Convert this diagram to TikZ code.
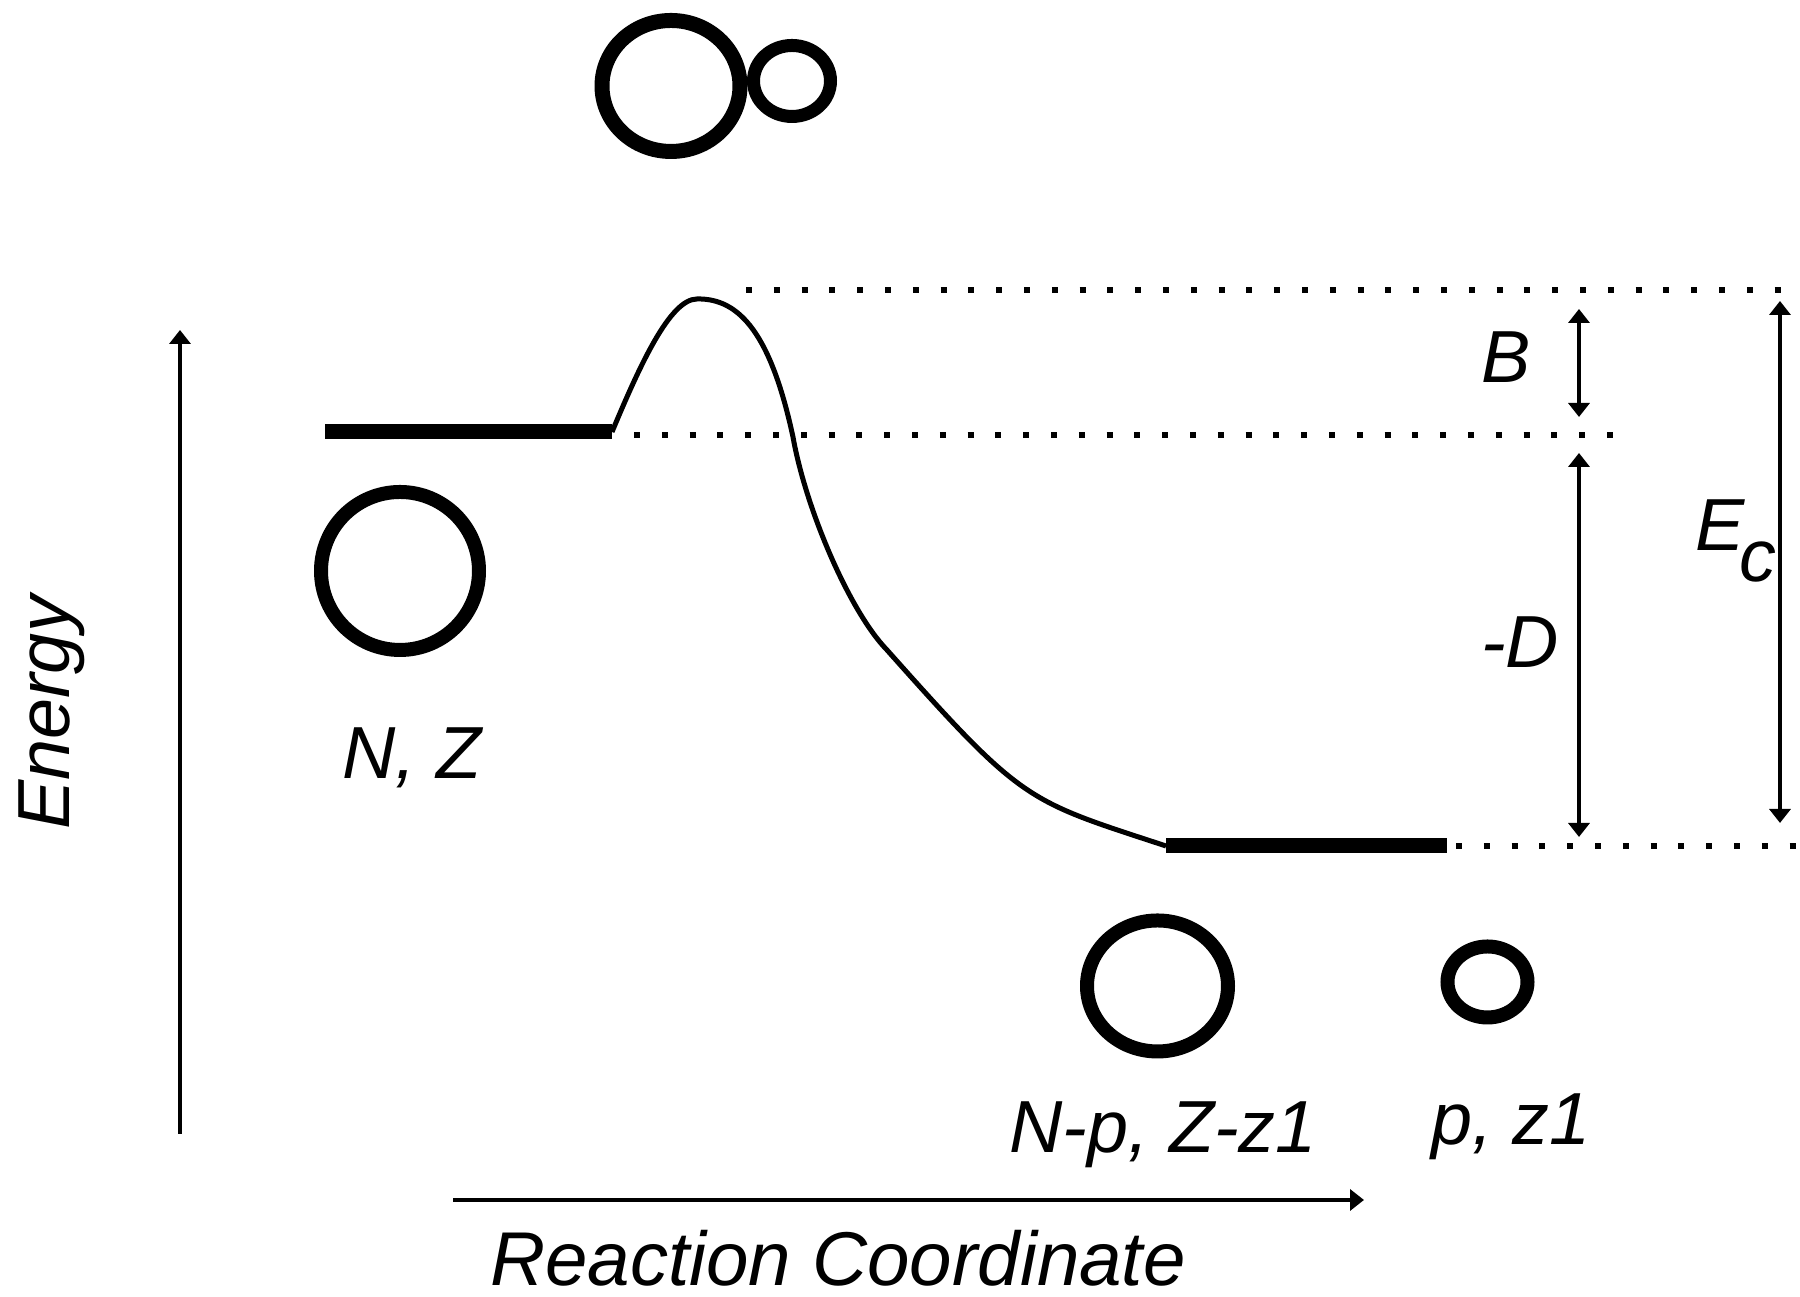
\documentclass[tikz,border=0pt]{standalone}
\usepackage{fontspec}
\setmainfont{Liberation Sans}
\usetikzlibrary{arrows.meta}

\tikzset{
  level/.style={line width=0.15cm},
  ring/.style={line width=0.14cm},
  guide/.style={line width=0.06cm, dash pattern=on 0.06cm off 0.218cm},
  lbl/.style={inner sep=0pt, font=\fontsize{21pt}{25pt}\selectfont\itshape},
}

\begin{document}
\begin{tikzpicture}[>={Triangle[width=0.21cm,length=0.14cm]}, line width=0.04cm]
  \useasboundingbox (0,0) rectangle (18,12.97);

  % energy levels
  \coordinate (lvlL-w) at (3.25,8.65);
  \coordinate (lvlL-e) at (6.12,8.65);
  \coordinate (lvlR-w) at (11.66,4.51);
  \coordinate (lvlR-e) at (14.47,4.51);
  \draw[level] (lvlL-w) -- (lvlL-e);
  \draw[level] (lvlR-w) -- (lvlR-e);

  % potential curve
  \draw[line width=0.05cm] (lvlL-e)
    .. controls (6.40,9.32) and (6.70,9.98) .. (6.97,9.98)
    .. controls (7.40,9.99) and (7.71,9.62) .. (7.93,8.60)
    .. controls (8.06,7.87) and (8.50,6.85) .. (8.87,6.47)
    .. controls (10.24,4.93) and (10.26,4.97) .. (lvlR-w);

  % dotted guides
  \draw[guide] (7.46,10.07) -- (18,10.07);
  \draw[guide] (6.34,8.62) -- (16.22,8.62);
  \draw[guide] (14.56,4.51) -- (18,4.51);

  % nuclei
  \draw[ring] (4.00,7.26) ellipse [x radius=0.79, y radius=0.79];
  \draw[ring, line width=0.15cm] (6.71,12.11) ellipse [x radius=0.69, y radius=0.655];
  \draw[ring, line width=0.13cm] (7.92,12.16) ellipse [x radius=0.385, y radius=0.355];
  \draw[ring] (11.575,3.11) ellipse [x radius=0.705, y radius=0.655];
  \draw[ring] (14.875,3.15) ellipse [x radius=0.40, y radius=0.355];

  % axes
  \coordinate (en-lo) at (1.80,1.63);
  \coordinate (en-hi) at (1.80,9.67);
  \coordinate (rc-l) at (4.53,0.97);
  \coordinate (rc-r) at (13.64,0.97);
  \draw[->] (en-lo) -- (en-hi);
  \draw[->] (rc-l) -- (rc-r);

  % energy differences
  \coordinate (B-hi) at (15.79,9.88);
  \coordinate (B-lo) at (15.79,8.80);
  \coordinate (D-hi) at (15.79,8.44);
  \coordinate (D-lo) at (15.79,4.60);
  \coordinate (Ec-hi) at (17.80,9.96);
  \coordinate (Ec-lo) at (17.80,4.74);
  \draw[<->] (B-hi) -- (B-lo);
  \draw[<->] (D-hi) -- (D-lo);
  \draw[<->] (Ec-hi) -- (Ec-lo);

  % labels
  \node[lbl, rotate=90, anchor=base] (energy) at (0.70,5.84) {Energy};
  \node[lbl, anchor=base, font=\fontsize{21.7pt}{26pt}\selectfont\itshape] (reaction) at (8.38,0.11) {Reaction Coordinate};
  \node[lbl, anchor=base] (NZ) at (4.12,5.18) {N, Z};
  \node[lbl, anchor=base] (NpZz) at (11.63,1.44) {N-p, Z-z1};
  \node[lbl, anchor=base] (pz) at (15.11,1.52) {p, z1};
  \node[lbl, anchor=base] (B) at (15.06,9.14) {B};
  \node[lbl, anchor=base] (D) at (15.20,6.29) {-D};
  \node[lbl, anchor=base] (Ec) at (17.36,7.46) {E\kern-0.08em\raisebox{-0.41em}{c}};
\end{tikzpicture}
\end{document}
